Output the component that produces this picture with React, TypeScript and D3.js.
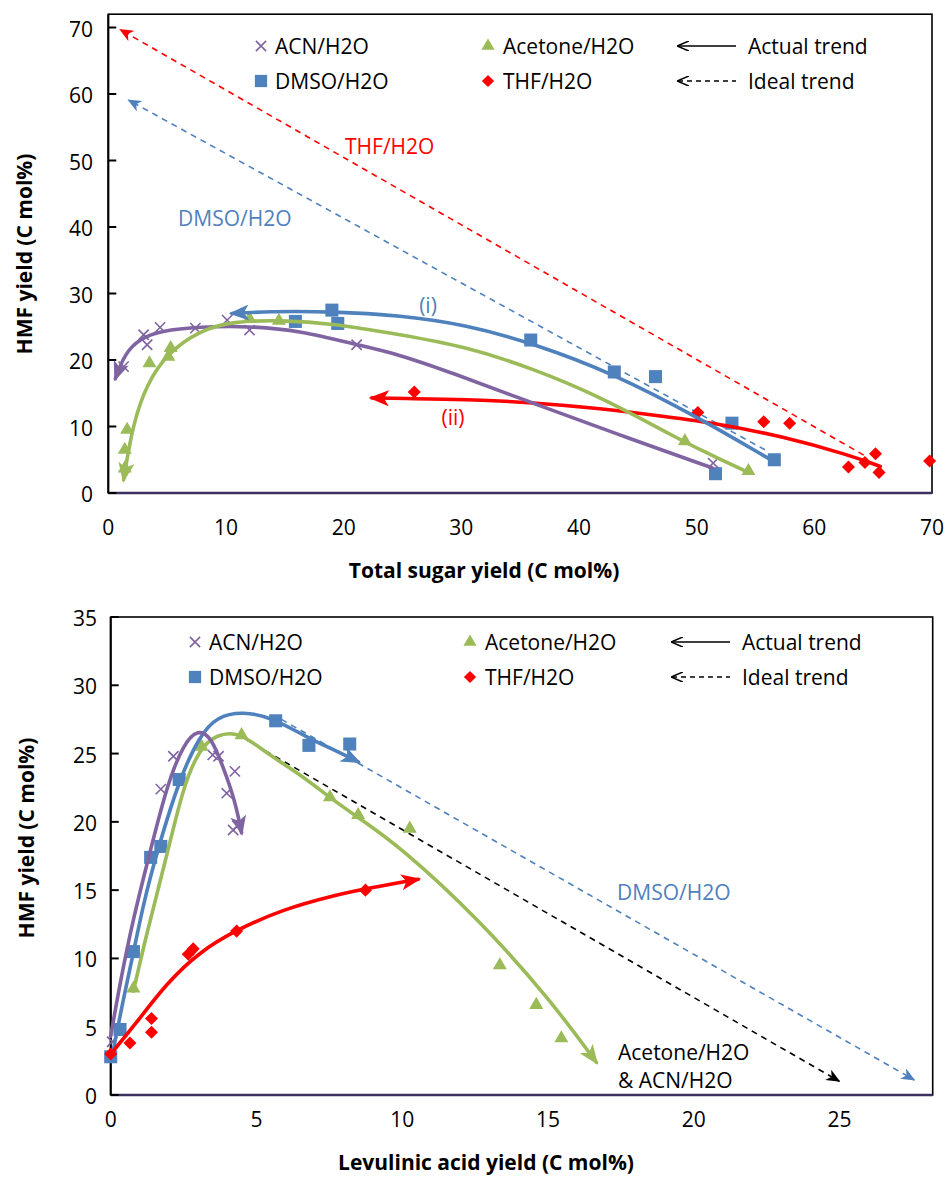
import React from "react";
import * as d3 from "d3";

// ---------- DATA: top chart (Total sugar yield vs HMF yield) ----------
const topXTicks = [0, 10, 20, 30, 40, 50, 60, 70];
const topYTicks = [0, 10, 20, 30, 40, 50, 60, 70];

const topACN: [number, number][] = [[1.3, 19.0], [3.0, 23.8], [3.3, 22.3], [4.4, 24.9], [7.4, 24.8], [10.1, 26.0], [12.0, 24.5], [21.1, 22.3], [51.4, 4.5]];
const topDMSO: [number, number][] = [[15.9, 25.8], [19.0, 27.5], [19.5, 25.5], [35.9, 23.0], [43.0, 18.2], [46.5, 17.5], [51.6, 2.9], [53.0, 10.5], [56.6, 5.0]];
const topAcetone: [number, number][] = [[1.4, 3.7], [1.4, 6.5], [1.6, 9.5], [3.5, 19.5], [5.1, 20.5], [5.3, 21.8], [12.0, 26.2], [14.5, 25.9], [49.0, 7.8], [54.4, 3.3]];
const topTHF: [number, number][] = [[26.0, 15.2], [50.1, 12.1], [55.7, 10.7], [57.9, 10.5], [62.9, 3.9], [64.3, 4.6], [65.2, 5.9], [65.5, 3.1], [69.8, 4.8]];

const topTrendACN: [number, number][] = [[51.3, 3.8], [43, 9.0], [36.1, 13.5], [29, 18.2], [24.8, 20.8], [21.1, 22.3], [16.3, 24.4], [12, 25.1], [7.8, 25.0], [4.4, 24.4], [2.7, 23.2], [1.4, 21], [0.6, 17.2]];
const topTrendAcetone: [number, number][] = [[54.5, 3.0], [50.3, 6.5], [48.6, 8.0], [41.8, 14.5], [36.1, 18.7], [30.4, 22.0], [24.8, 23.8], [19.1, 25.5], [14.6, 26.0], [10.6, 25.8], [7.8, 24.5], [5.0, 21], [3.3, 16.5], [2.1, 10.5], [1.3, 2.0]];
const topTrendDMSO: [number, number][] = [[56.1, 5.2], [50.3, 11.2], [42.9, 18], [36.1, 22.5], [30.4, 25.3], [24.8, 26.7], [19.1, 27.3], [13.5, 27.3], [10.5, 27.0]];
const topTrendTHF: [number, number][] = [[65.6, 4.0], [63.0, 5.7], [57.3, 8.5], [51.7, 10.5], [46.0, 11.8], [41.8, 12.7], [36.1, 13.6], [30.4, 14.1], [24.8, 14.2], [22.4, 14.3]];
const topIdealTHF: [number, number][] = [[64.2, 5.7], [1.0, 69.7]];
const topIdealDMSO: [number, number][] = [[55.8, 6.5], [1.7, 59.1]];

// ---------- DATA: bottom chart (Levulinic acid yield vs HMF yield) ----------
const botXTicks = [0, 5, 10, 15, 20, 25];
const botYTicks = [0, 5, 10, 15, 20, 25, 30, 35];

const botACN: [number, number][] = [[0.05, 3.9], [1.72, 22.4], [2.15, 24.8], [3.5, 24.9], [3.7, 24.8], [3.98, 22.1], [4.26, 23.7], [4.2, 19.4], [4.35, 19.7]];
const botDMSO: [number, number][] = [[0.0, 2.8], [0.32, 4.8], [0.78, 10.5], [1.37, 17.4], [1.72, 18.2], [2.35, 23.1], [5.66, 27.4], [6.8, 25.6], [8.2, 25.7]];
const botAcetone: [number, number][] = [[0.78, 7.8], [3.12, 25.5], [4.49, 26.35], [7.52, 21.8], [8.49, 20.5], [10.26, 19.5], [13.35, 9.5], [14.6, 6.6], [15.46, 4.15]];
const botTHF: [number, number][] = [[0, 3.0], [0.66, 3.8], [1.4, 5.6], [1.4, 4.6], [2.66, 10.3], [2.83, 10.7], [4.32, 12.0], [8.74, 15.0]];

const botTrendACN: [number, number][] = [[0, 4.3], [0.32, 8.2], [0.78, 13.0], [1.35, 17.8], [1.92, 22.6], [2.49, 25.7], [3.0, 26.8], [3.45, 26.2], [3.86, 24.0], [4.26, 21.6], [4.49, 19.2]];
const botTrendDMSO: [number, number][] = [[0.09, 3.3], [0.43, 7.0], [0.78, 10.4], [1.12, 14], [1.6, 17.9], [2.38, 23.3], [3.06, 26.3], [3.63, 27.7], [4.55, 28.1], [5.57, 27.6], [6.72, 26.2], [7.63, 25.3], [8.49, 24.4]];
const botTrendAcetone: [number, number][] = [[0.78, 7.6], [1.23, 11.8], [1.97, 17.9], [2.49, 22.6], [3.06, 25.4], [3.63, 26.4], [4.43, 26.6], [5.35, 25.0], [6.49, 23.5], [7.63, 21.6], [8.43, 20.4], [9.92, 18.2], [12.66, 12.8], [15.07, 7.0], [16.66, 2.4]];
const botTrendTHF: [number, number][] = [[0, 3.0], [0.78, 5.0], [1.92, 8.2], [3.06, 10.5], [4.32, 12.1], [5.92, 13.6], [7.63, 14.6], [8.74, 15.1], [10.55, 15.8]];
const botIdealDMSO: [number, number][] = [[5.86, 27.5], [27.57, 1.1]];
const botIdealMix: [number, number][] = [[4.66, 26.0], [25.0, 1.0]];

const legendNames = ["ACN/H2O", "DMSO/H2O", "Acetone/H2O", "THF/H2O"];

const C = {
  acn: "#8064A2",
  dmso: "#4F81BD",
  acetone: "#9BBB59",
  thf: "#FF0000",
  axis: "#3D3060",
};
const FONT = "'Open Sans', sans-serif";
const FS = 21;

type Pt = [number, number];

function Markers({ pts, kind, color, x, y }: { pts: Pt[]; kind: string; color: string; x: any; y: any }) {
  let path: string;
  let stroke = false;
  let rot = 0;
  if (kind === "x") {
    path = d3.symbol(d3.symbolX, 70)() as string;
    stroke = true;
  } else if (kind === "square") {
    path = d3.symbol(d3.symbolSquare, 170)() as string;
  } else if (kind === "triangle") {
    path = d3.symbol(d3.symbolTriangle, 85)() as string;
  } else {
    path = d3.symbol(d3.symbolSquare, 85)() as string;
    rot = 45;
  }
  return (
    <g>
      {pts.map((p, i) => (
        <path
          key={i}
          d={path}
          transform={`translate(${x(p[0])},${y(p[1])}) rotate(${rot})`}
          fill={stroke ? "none" : color}
          stroke={stroke ? color : "none"}
          strokeWidth={stroke ? 1.6 : 0}
        />
      ))}
    </g>
  );
}

function Legend({ x0, x1, xa, y1, y2 }: { x0: number; x1: number; xa: number; y1: number; y2: number }) {
  const sx = d3.symbol(d3.symbolX, 70)() as string;
  const sq = d3.symbol(d3.symbolSquare, 150)() as string;
  const tri = d3.symbol(d3.symbolTriangle, 75)() as string;
  const dia = d3.symbol(d3.symbolSquare, 75)() as string;
  const ts = { fontFamily: FONT, fontSize: FS, fill: "#000" } as any;
  return (
    <g>
      <path d={sx} transform={`translate(${x0},${y1})`} fill="none" stroke={C.acn} strokeWidth={1.6} />
      <text x={x0 + 14} y={y1} dominantBaseline="central" style={ts}>{legendNames[0]}</text>
      <path d={sq} transform={`translate(${x0},${y2})`} fill={C.dmso} />
      <text x={x0 + 14} y={y2} dominantBaseline="central" style={ts}>{legendNames[1]}</text>
      <path d={tri} transform={`translate(${x1},${y1})`} fill={C.acetone} />
      <text x={x1 + 15} y={y1} dominantBaseline="central" style={ts}>{legendNames[2]}</text>
      <path d={dia} transform={`translate(${x1},${y2}) rotate(45)`} fill={C.thf} />
      <text x={x1 + 15} y={y2} dominantBaseline="central" style={ts}>{legendNames[3]}</text>
      <line x1={xa} y1={y1} x2={xa + 58} y2={y1} stroke="#000" strokeWidth={1.6} markerStart="url(#legArrow)" />
      <text x={xa + 70} y={y1} dominantBaseline="central" style={ts}>Actual trend</text>
      <line x1={xa} y1={y2} x2={xa + 58} y2={y2} stroke="#000" strokeWidth={1.6} strokeDasharray="5,4" markerStart="url(#legArrow)" />
      <text x={xa + 70} y={y2} dominantBaseline="central" style={ts}>Ideal trend</text>
    </g>
  );
}

function Frame({ x, y, xTicks, yTicks, xLabelY, yLabelX, title, titleX, titleY, yTitleX, yTitleY }: any) {
  const [x0, x1] = x.range();
  const [y0, y1] = y.range();
  const ts = { fontFamily: FONT, fontSize: FS, fill: "#000" } as any;
  const bs = { fontFamily: FONT, fontSize: FS, fontWeight: 700, fill: "#000" } as any;
  return (
    <g>
      <rect x={x0} y={y1} width={x1 - x0} height={y0 - y1} fill="none" stroke="#000" strokeWidth={1.6} />
      <line x1={x0} y1={y0} x2={x1} y2={y0} stroke={C.axis} strokeWidth={2.6} />
      <line x1={x0} y1={y0} x2={x0} y2={y1} stroke="#000" strokeWidth={2} />
      {yTicks.map((t: number) => (
        <g key={t}>
          <line x1={x0} x2={x0 + 8} y1={y(t)} y2={y(t)} stroke="#000" strokeWidth={2} />
          <text x={yLabelX} y={y(t) + 1} textAnchor="end" dominantBaseline="central" style={ts}>{t}</text>
        </g>
      ))}
      {xTicks.map((t: number) => (
        <text key={t} x={x(t)} y={xLabelY} textAnchor="middle" dominantBaseline="central" style={ts}>{t}</text>
      ))}
      <text x={titleX} y={titleY} textAnchor="middle" dominantBaseline="central" style={bs}>{title}</text>
      <text transform={`translate(${yTitleX},${yTitleY}) rotate(-90)`} textAnchor="middle" dominantBaseline="central" style={bs}>HMF yield (C mol%)</text>
    </g>
  );
}

function Trend({ pts, color, x, y, marker }: any) {
  const line = d3.line<Pt>().x((d) => x(d[0])).y((d) => y(d[1])).curve(d3.curveBasis);
  return <path d={line(pts) as string} fill="none" stroke={color} strokeWidth={3.6} strokeLinecap="round" markerEnd={`url(#${marker})`} />;
}
function Ideal({ pts, color, x, y, marker }: any) {
  const line = d3.line<Pt>().x((d) => x(d[0])).y((d) => y(d[1]));
  return <path d={line(pts) as string} fill="none" stroke={color} strokeWidth={1.6} strokeDasharray="6,5" markerEnd={`url(#${marker})`} />;
}

export default function App() {
  const xT = d3.scaleLinear().domain([0, 70]).range([108.3, 932]);
  const yT = d3.scaleLinear().domain([0, 72]).range([493, 14.2]);
  const xB = d3.scaleLinear().domain([0, 28.2]).range([110.7, 932.7]);
  const yB = d3.scaleLinear().domain([0, 35]).range([1095, 617]);

  const arrowColors: [string, string][] = [["acn", C.acn], ["dmso", C.dmso], ["acetone", C.acetone], ["thf", C.thf], ["blk", "#000"]];

  return (
    <svg width={947} height={1179} style={{ position: "absolute", left: 0, top: 0, background: "#fff" }}>
      <defs>
        {arrowColors.map(([k, c]) => (
          <marker key={"s" + k} id={"solid_" + k} viewBox="0 0 20 16" refX={17} refY={8} markerWidth={20} markerHeight={16} markerUnits="userSpaceOnUse" orient="auto">
            <path d="M0,0 L20,8 L0,16 L5,8 Z" fill={c} />
          </marker>
        ))}
        {arrowColors.map(([k, c]) => (
          <marker key={"d" + k} id={"dash_" + k} viewBox="0 0 14 12" refX={13} refY={6} markerWidth={14} markerHeight={12} markerUnits="userSpaceOnUse" orient="auto">
            <path d="M0,0 L14,6 L0,12 L4,6 Z" fill={c} />
          </marker>
        ))}
        <marker id="legArrow" viewBox="0 0 12 10" refX={1} refY={5} markerWidth={12} markerHeight={10} markerUnits="userSpaceOnUse" orient="auto">
          <path d="M12,0 L0,5 L12,10" fill="none" stroke="#000" strokeWidth={1.6} />
        </marker>
      </defs>
      <rect x={0} y={0} width={947} height={1179} fill="#fff" />

      {/* ---------- Top chart ---------- */}
      <Frame x={xT} y={yT} xTicks={topXTicks} yTicks={topYTicks} xLabelY={527} yLabelX={93}
        title="Total sugar yield (C mol%)" titleX={484} titleY={570} yTitleX={24} yTitleY={254} />
      <Legend x0={261} x1={488} xa={678} y1={46} y2={81} />
      <Ideal pts={topIdealTHF} color={C.thf} x={xT} y={yT} marker="dash_thf" />
      <Ideal pts={topIdealDMSO} color={C.dmso} x={xT} y={yT} marker="dash_dmso" />
      <Markers pts={topACN} kind="x" color={C.acn} x={xT} y={yT} />
      <Markers pts={topDMSO} kind="square" color={C.dmso} x={xT} y={yT} />
      <Markers pts={topAcetone} kind="triangle" color={C.acetone} x={xT} y={yT} />
      <Markers pts={topTHF} kind="diamond" color={C.thf} x={xT} y={yT} />
      <Trend pts={topTrendTHF} color={C.thf} x={xT} y={yT} marker="solid_thf" />
      <Trend pts={topTrendACN} color={C.acn} x={xT} y={yT} marker="solid_acn" />
      <Trend pts={topTrendAcetone} color={C.acetone} x={xT} y={yT} marker="solid_acetone" />
      <Trend pts={topTrendDMSO} color={C.dmso} x={xT} y={yT} marker="solid_dmso" />
      <text x={345} y={146} dominantBaseline="central" style={{ fontFamily: FONT, fontSize: FS, fill: C.thf }}>THF/H2O</text>
      <text x={178} y={218} dominantBaseline="central" style={{ fontFamily: FONT, fontSize: FS, fill: C.dmso }}>DMSO/H2O</text>
      <text x={428} y={305} textAnchor="middle" dominantBaseline="central" style={{ fontFamily: FONT, fontSize: FS, fill: C.dmso }}>(i)</text>
      <text x={453} y={417} textAnchor="middle" dominantBaseline="central" style={{ fontFamily: FONT, fontSize: FS, fill: C.thf }}>(ii)</text>

      {/* ---------- Bottom chart ---------- */}
      <Frame x={xB} y={yB} xTicks={botXTicks} yTicks={botYTicks} xLabelY={1119} yLabelX={97}
        title="Levulinic acid yield (C mol%)" titleX={486} titleY={1162} yTitleX={26} yTitleY={838} />
      <Legend x0={195} x1={470} xa={672} y1={642} y2={677} />
      <Ideal pts={botIdealDMSO} color={C.dmso} x={xB} y={yB} marker="dash_dmso" />
      <Ideal pts={botIdealMix} color="#000" x={xB} y={yB} marker="dash_blk" />
      <Markers pts={botACN} kind="x" color={C.acn} x={xB} y={yB} />
      <Markers pts={botDMSO} kind="square" color={C.dmso} x={xB} y={yB} />
      <Markers pts={botAcetone} kind="triangle" color={C.acetone} x={xB} y={yB} />
      <Markers pts={botTHF} kind="diamond" color={C.thf} x={xB} y={yB} />
      <Trend pts={botTrendAcetone} color={C.acetone} x={xB} y={yB} marker="solid_acetone" />
      <Trend pts={botTrendDMSO} color={C.dmso} x={xB} y={yB} marker="solid_dmso" />
      <Trend pts={botTrendACN} color={C.acn} x={xB} y={yB} marker="solid_acn" />
      <Trend pts={botTrendTHF} color={C.thf} x={xB} y={yB} marker="solid_thf" />
      <text x={617} y={892} dominantBaseline="central" style={{ fontFamily: FONT, fontSize: FS, fill: C.dmso }}>DMSO/H2O</text>
      <text x={618} y={1052} dominantBaseline="central" style={{ fontFamily: FONT, fontSize: FS, fill: "#000" }}>Acetone/H2O</text>
      <text x={618} y={1080} dominantBaseline="central" style={{ fontFamily: FONT, fontSize: FS, fill: "#000" }}>&amp; ACN/H2O</text>
    </svg>
  );
}
